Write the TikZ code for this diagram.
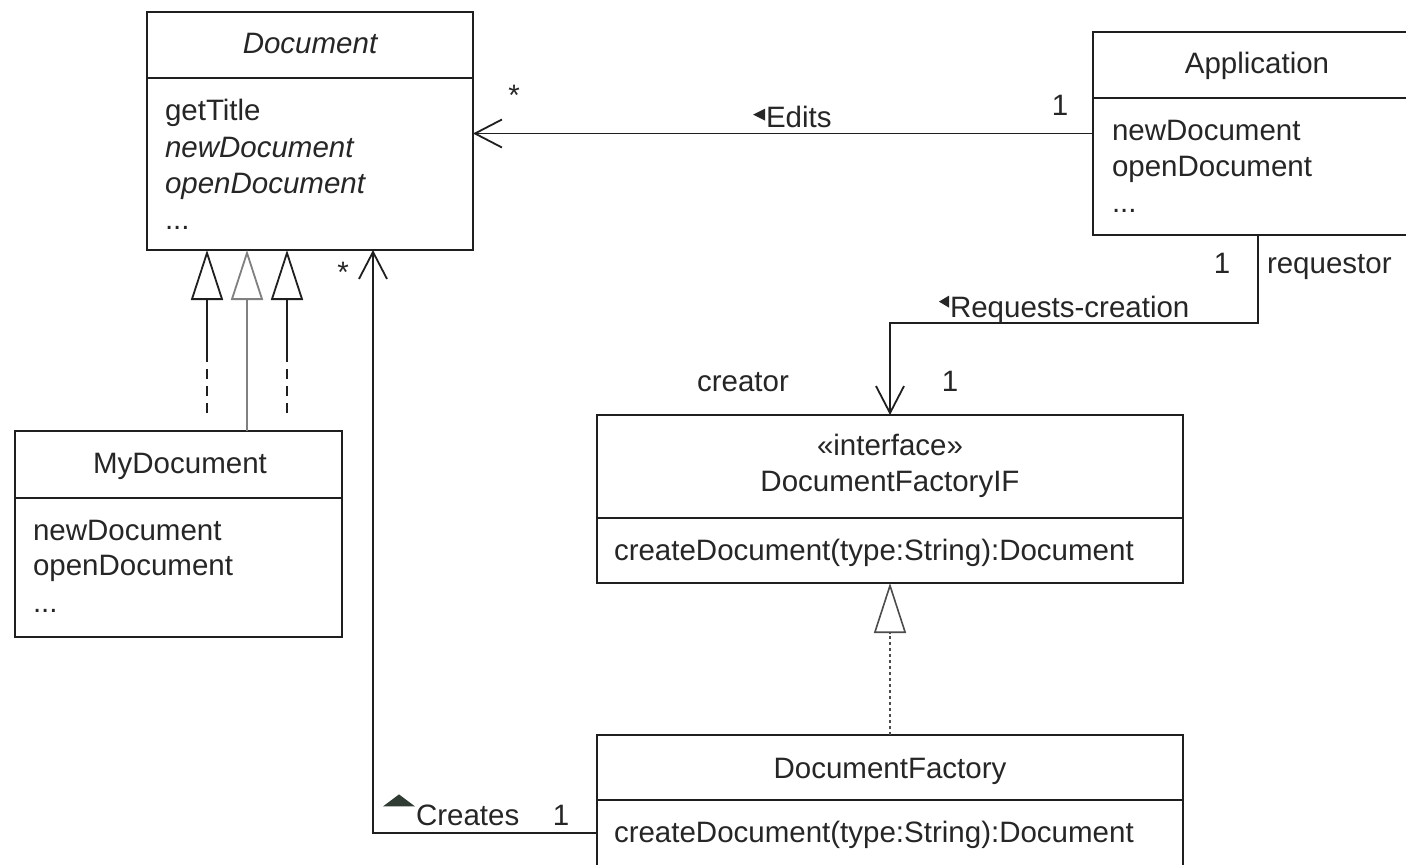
\documentclass[tikz,border=0pt]{standalone}
\usepackage{fontspec}
\setmainfont{Liberation Sans}
\usetikzlibrary{arrows.meta}
\definecolor{markergray}{HTML}{2F3B33}
\begin{document}
\begin{tikzpicture}[x=1pt,y=-1pt,
  ink/.style={draw=black!88, line width=1.8pt},
  box/.style={ink, fill=white, inner sep=0pt, outer sep=0pt, anchor=north west},
  txt/.style={text=black!85, inner sep=0pt, outer sep=0pt, font=\fontsize{29.5}{35}\selectfont},
  attr/.style={txt, anchor=base west},
  title/.style={txt, anchor=base},
  assoc/.style={ink, -{Straight Barb[length=27pt,width=28pt]}},
  gen/.style={ink, -{Triangle[open,length=50pt,width=32pt,fill=white]}},
  marker/.style={fill=black!85}
]
\useasboundingbox (0,0) rectangle (1406,865);
\fill[white] (0,0) rectangle (1406,865);
\clip (0,0) rectangle (1406,865);

% ---------- class boxes ----------
\node[box, minimum width=326pt, minimum height=238pt] (doc) at (147,12) {};
\draw[ink] ([yshift=-66pt]doc.north west) -- ([yshift=-66pt]doc.north east);

\node[box, minimum width=330pt, minimum height=203pt] (app) at (1093,32) {};
\draw[ink] ([yshift=-66pt]app.north west) -- ([yshift=-66pt]app.north east);

\node[box, minimum width=327pt, minimum height=206pt] (mydoc) at (15,431) {};
\draw[ink] ([yshift=-67pt]mydoc.north west) -- ([yshift=-67pt]mydoc.north east);

\node[box, minimum width=586pt, minimum height=168pt] (dfif) at (597,415) {};
\draw[ink] ([yshift=-103pt]dfif.north west) -- ([yshift=-103pt]dfif.north east);

\node[box, minimum width=586pt, minimum height=160pt] (df) at (597,735) {};
\draw[ink] ([yshift=-65pt]df.north west) -- ([yshift=-65pt]df.north east);

% ---------- class texts ----------
\node[title, font=\fontsize{29.5}{35}\selectfont\itshape] (docname) at (310,53) {Document};
\node[attr] (doc1) at (165,120) {getTitle};
\node[attr, font=\fontsize{29.5}{35}\selectfont\itshape] (doc2) at (165,157) {newDocument};
\node[attr, font=\fontsize{29.5}{35}\selectfont\itshape] (doc3) at (165,193) {openDocument};
\node[attr] (doc4) at (165,229) {...};

\node[title] (appname) at (1257,73) {Application};
\node[attr] (app1) at (1112,140) {newDocument};
\node[attr] (app2) at (1112,176) {openDocument};
\node[attr] (app3) at (1112,212) {...};

\node[title] (mydocname) at (180,473) {MyDocument};
\node[attr] (my1) at (33,540) {newDocument};
\node[attr] (my2) at (33,575) {openDocument};
\node[attr] (my3) at (33,612) {...};

\node[title] (stereo) at (890,455) {«interface»};
\node[title] (dfifname) at (890,491) {DocumentFactoryIF};
\node[attr] (dfif1) at (614,560) {createDocument(type:String):Document};

\node[title] (dfname) at (890,778) {DocumentFactory};
\node[attr] (df1) at (614,842) {createDocument(type:String):Document};

% ---------- generalizations MyDocument -> Document ----------
\coordinate (gL) at (207,413);
\coordinate (gLs) at (207,355);
\coordinate (gR) at (287,413);
\coordinate (gRs) at (287,355);
\draw[ink, dash pattern=on 10pt off 7pt] (gL) -- (gLs);
\draw[gen] (gLs) -- ([xshift=60pt]doc.south west);
\draw[ink, dash pattern=on 10pt off 7pt] (gR) -- (gRs);
\draw[gen] (gRs) -- ([xshift=140pt]doc.south west);
\draw[gen, draw=black!50] ([xshift=232pt]mydoc.north west) -- ([xshift=100pt]doc.south west);

% ---------- Edits ----------
\draw[assoc] (app.west) -- (app.west -| doc.east);
\node[txt] (edmany) at (514,95) {*};
\node[attr] (edits) at (766,127) {Edits};
\fill[marker] ([xshift=-13pt,yshift=-9pt]edits.north west) -- ++(12,-6) -- ++(0,12) -- cycle;
\node[title] (edone) at (1060,115) {1};

% ---------- Requests-creation ----------
\draw[assoc] (app.south) -- ++(0,88) -| (dfif.north);
\node[title] (rqone) at (1222,273) {1};
\node[attr] (rqrole) at (1267,273) {requestor};
\node[attr] (reqs) at (950,317) {Requests-creation};
\fill[marker] ([xshift=-11pt,yshift=-6pt]reqs.north west) -- ++(10,-6) -- ++(0,12) -- cycle;
\node[title] (crrole) at (743,391) {creator};
\node[title] (crone) at (950,391) {1};

% ---------- realization DocumentFactory -> DocumentFactoryIF ----------
\draw[gen, draw=black!70, line width=1.6pt, dash pattern=on 3pt off 3pt] (df.north) -- (dfif.south);

% ---------- Creates ----------
\draw[assoc] ([yshift=-98pt]df.north west) -| ([xshift=-100pt]doc.south east);
\node[txt] (crmany) at (343,272) {*};
\node[attr] (creates) at (416,825) {Creates};
\fill[markergray] ([xshift=-33pt,yshift=-2pt]creates.north west) -- ++(16,-12) -- ++(16,12) -- cycle;
\node[title] (cdone) at (561,825) {1};
\end{tikzpicture}
\end{document}
